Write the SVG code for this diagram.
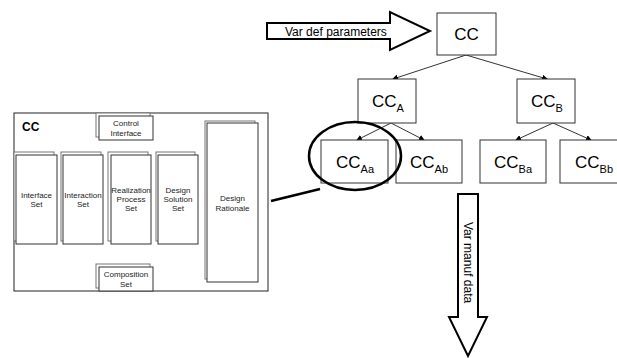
<svg xmlns="http://www.w3.org/2000/svg" width="617" height="358" viewBox="0 0 617 358">
<style>
.bx{fill:#fff;stroke:#333;stroke-width:1}
.big{font-family:"Liberation Sans",Arial,sans-serif;font-size:17px;fill:#000}
.sub{font-size:11px}
.sm{font-family:"Liberation Sans",Arial,sans-serif;font-size:8px;fill:#222;text-anchor:middle}
.back{fill:#fff;stroke:#777;stroke-width:1}
.front{fill:#fff;stroke:#333;stroke-width:1}
.fat{fill:#fff;stroke:#000;stroke-width:2}
</style>
<defs>
<marker id="ah" markerWidth="6" markerHeight="6" refX="5" refY="3" orient="auto" markerUnits="userSpaceOnUse">
<path d="M0,0 L6,3 L0,6 z" fill="#000"/>
</marker>
</defs>
<rect width="617" height="358" fill="#fff"/>

<g id="connectors" stroke="#333" stroke-width="1" fill="none">
<line x1="466" y1="55" x2="393" y2="79" marker-end="url(#ah)"/>
<line x1="466" y1="55" x2="547" y2="79" marker-end="url(#ah)"/>
<line x1="391" y1="123" x2="357" y2="140" marker-end="url(#ah)"/>
<line x1="391" y1="123" x2="424" y2="140" marker-end="url(#ah)"/>
<line x1="553" y1="123" x2="516" y2="140" marker-end="url(#ah)"/>
<line x1="553" y1="123" x2="591" y2="140" marker-end="url(#ah)"/>
<line x1="271" y1="201" x2="320" y2="189" stroke="#000" stroke-width="2.5"/>
</g>

<g id="arrow-var-def">
<path class="fat" d="M267,23 L390,23 L390,12 L430,31 L390,50 L390,39 L267,39 z"/>
<text x="285" y="36" font-family="Liberation Sans,Arial,sans-serif" font-size="12" fill="#000">Var def parameters</text>
</g>

<g id="node-cc">
<rect class="bx" x="437" y="13" width="59" height="42"/>
<text class="big" x="466.5" y="40" text-anchor="middle">CC</text>
</g>
<g id="node-cca">
<rect class="bx" x="358" y="79" width="58" height="44"/>
<text class="big" x="372" y="107">CC<tspan class="sub" dy="5">A</tspan></text>
</g>
<g id="node-ccb">
<rect class="bx" x="517" y="79" width="58" height="44"/>
<text class="big" x="531" y="107">CC<tspan class="sub" dy="5">B</tspan></text>
</g>
<g id="node-ccaa">
<rect class="bx" x="321" y="140" width="67" height="43"/>
<text class="big" x="336" y="168">CC<tspan class="sub" dy="5">Aa</tspan></text>
</g>
<g id="node-ccab">
<rect class="bx" x="396" y="140" width="66" height="43"/>
<text class="big" x="410" y="168">CC<tspan class="sub" dy="5">Ab</tspan></text>
</g>
<g id="node-ccba">
<rect class="bx" x="480" y="140" width="66" height="43"/>
<text class="big" x="494" y="168">CC<tspan class="sub" dy="5">Ba</tspan></text>
</g>
<g id="node-ccbb">
<rect class="bx" x="560" y="140" width="70" height="43"/>
<text class="big" x="575" y="168">CC<tspan class="sub" dy="5">Bb</tspan></text>
</g>

<g id="highlight-circle">
<ellipse cx="355" cy="156" rx="46" ry="34" fill="none" stroke="#000" stroke-width="2.5"/>
</g>

<g id="arrow-var-manuf">
<path class="fat" d="M458,194 L478,194 L478,317 L487,317 L468,356 L449,317 L458,317 z"/>
<text transform="translate(464,222) rotate(90)" font-family="Liberation Sans,Arial,sans-serif" font-size="12" fill="#000">Var manuf data</text>
</g>

<g id="panel-cc">
<rect x="14" y="113" width="254" height="178" fill="#fff" stroke="#222" stroke-width="1"/>
<text x="22" y="131" font-family="Liberation Sans,Arial,sans-serif" font-size="12" font-weight="bold" fill="#000">CC</text>
</g>

<g id="control-interface">
<rect class="back" x="96" y="113" width="54" height="24"/>
<rect class="front" x="99" y="116" width="54" height="24"/>
<text class="sm" x="126" y="126">Control</text>
<text class="sm" x="126" y="135.5">Interface</text>
</g>

<g id="interface-set">
<rect class="back" x="14" y="152" width="40" height="89"/>
<rect class="front" x="16" y="155" width="41" height="89"/>
<text class="sm" x="36.5" y="198">Interface</text>
<text class="sm" x="36.5" y="207">Set</text>
</g>

<g id="interaction-set">
<rect class="back" x="61" y="152" width="40" height="89"/>
<rect class="front" x="63" y="155" width="40" height="89"/>
<text class="sm" x="83" y="198">Interaction</text>
<text class="sm" x="83" y="207">Set</text>
</g>

<g id="realization-process-set">
<rect class="back" x="108" y="152" width="40" height="89"/>
<rect class="front" x="111" y="155" width="40" height="89"/>
<text class="sm" x="131" y="193">Realization</text>
<text class="sm" x="131" y="202">Process</text>
<text class="sm" x="131" y="211">Set</text>
</g>

<g id="design-solution-set">
<rect class="back" x="156" y="152" width="39" height="89"/>
<rect class="front" x="158" y="155" width="40" height="89"/>
<text class="sm" x="178" y="193">Design</text>
<text class="sm" x="178" y="202">Solution</text>
<text class="sm" x="178" y="211">Set</text>
</g>

<g id="design-rationale">
<rect class="back" x="205" y="121" width="50" height="158"/>
<rect class="front" x="207" y="123" width="51" height="159"/>
<text class="sm" x="232.5" y="201">Design</text>
<text class="sm" x="232.5" y="211">Rationale</text>
</g>

<g id="composition-set">
<rect class="back" x="96" y="264" width="54" height="24"/>
<rect class="front" x="99" y="267" width="54" height="24"/>
<text class="sm" x="126" y="277">Composition</text>
<text class="sm" x="126" y="286.5">Set</text>
</g>
</svg>
